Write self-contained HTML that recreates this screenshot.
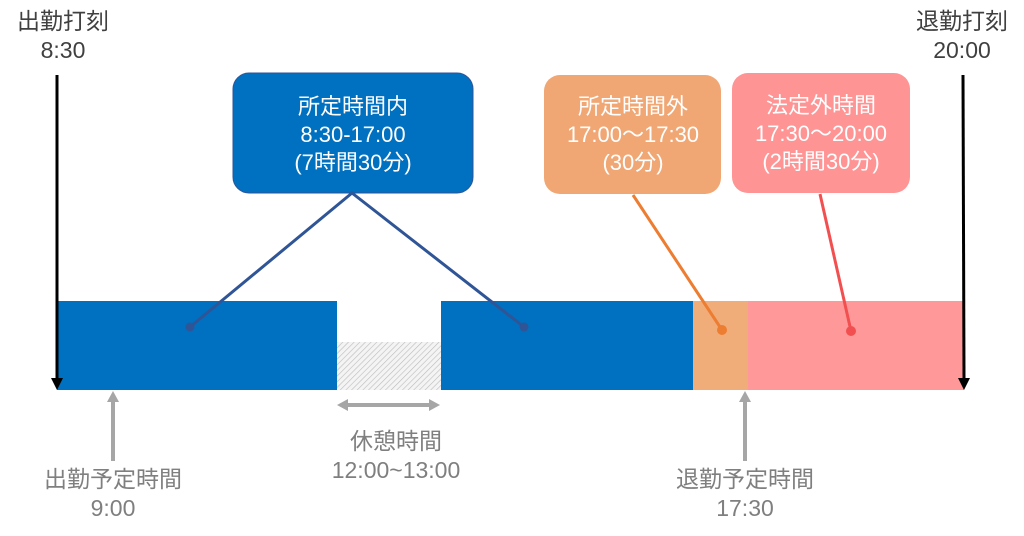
<!DOCTYPE html>
<html><head><meta charset="utf-8"><style>
html,body{margin:0;padding:0;background:#fff;}
svg{display:block;font-family:"Liberation Sans","Noto Sans CJK JP",sans-serif;}
</style></head><body>
<svg width="1024" height="536" viewBox="0 0 1024 536" xmlns="http://www.w3.org/2000/svg">
<defs>
<pattern id="h" width="4" height="4" patternUnits="userSpaceOnUse" patternTransform="rotate(45)">
<rect width="4" height="4" fill="#f4f4f4"/><line x1="0" y1="0" x2="0" y2="4" stroke="#bbb" stroke-width="1.2"/>
</pattern>
</defs>
<rect x="57" y="301" width="280" height="89" fill="#0070c0"/>
<rect x="337" y="342" width="104" height="48" fill="url(#h)"/>
<rect x="441" y="301" width="252" height="89" fill="#0070c0"/>
<rect x="693" y="301" width="55" height="89" fill="#f0ad7a"/>
<rect x="748" y="301" width="216" height="89" fill="#ff9999"/>
<line x1="57" y1="75" x2="57" y2="380" stroke="#000" stroke-width="3"/>
<polygon points="51,378 63,378 57,390" fill="#000"/>
<line x1="963" y1="75" x2="964" y2="380" stroke="#000" stroke-width="3"/>
<polygon points="958,378 970,378 964,390" fill="#000"/>
<rect x="233" y="73" width="240" height="120" rx="16" fill="#0070c0" stroke="#2f5597" stroke-width="1"/>
<rect x="544" y="75" width="177" height="119" rx="16" fill="#f0a774"/>
<rect x="732" y="73" width="178" height="120" rx="16" fill="#ff9495"/>
<g fill="#fff" font-size="22" text-anchor="middle">
<text x="353" y="114">所定時間内</text><text x="353" y="142">8:30-17:00</text><text x="353" y="170">(7時間30分)</text>
<text x="633" y="114">所定時間外</text><text x="633" y="142">17:00～17:30</text><text x="633" y="170">(30分)</text>
<text x="821" y="113">法定外時間</text><text x="821" y="141">17:30～20:00</text><text x="821" y="169">(2時間30分)</text>
</g>
<g stroke="#2f5597" stroke-width="3" fill="none"><polyline points="190,327 352,193 524,327"/></g>
<circle cx="190" cy="327" r="4.5" fill="#2f5597"/><circle cx="524" cy="327" r="4.5" fill="#2f5597"/>
<line x1="633" y1="195" x2="722" y2="330" stroke="#ed7d31" stroke-width="3"/><circle cx="722" cy="330" r="5" fill="#ed7d31"/>
<line x1="820" y1="194" x2="851" y2="331" stroke="#f25050" stroke-width="3"/><circle cx="851" cy="331" r="5" fill="#f25050"/>
<g stroke="#a6a6a6" stroke-width="4">
<line x1="113" y1="400" x2="113" y2="461"/><line x1="745" y1="400" x2="745" y2="461"/>
<line x1="345" y1="405" x2="432" y2="405"/>
</g>
<g fill="#a6a6a6">
<polygon points="107,402 119,402 113,391"/><polygon points="739,402 751,402 745,391"/>
<polygon points="337,405 348,399 348,411"/><polygon points="440,405 429,399 429,411"/>
</g>
<g fill="#7f7f7f" font-size="23" text-anchor="middle">
<text x="113" y="487">出勤予定時間</text><text x="113" y="516">9:00</text>
<text x="396" y="449">休憩時間</text><text x="396" y="478">12:00~13:00</text>
<text x="745" y="487">退勤予定時間</text><text x="745" y="516">17:30</text>
</g>
<g fill="#404040" font-size="23" text-anchor="middle">
<text x="63" y="29">出勤打刻</text><text x="63" y="58">8:30</text>
<text x="962" y="29">退勤打刻</text><text x="962" y="58">20:00</text>
</g>
</svg>
</body></html>
